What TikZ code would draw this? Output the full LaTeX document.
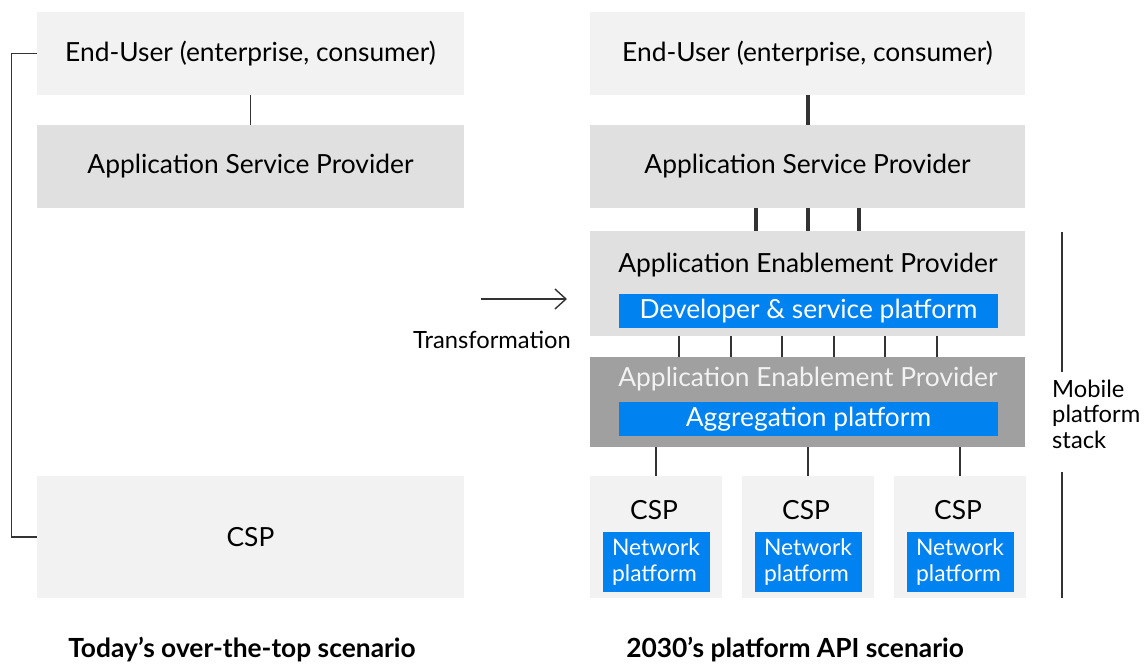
\documentclass[tikz,border=0pt]{standalone}
\usepackage{fontspec}
\setmainfont{Lato}
\usepackage{xcolor}
\usepackage{tikz}
\usetikzlibrary{arrows.meta}

\definecolor{paleGray}{HTML}{F2F2F2}
\definecolor{midGray}{HTML}{E0E0E0}
\definecolor{darkGray}{HTML}{A0A0A0}
\definecolor{platBlue}{HTML}{0082F0}
\definecolor{lineGray}{HTML}{333333}

\begin{document}
\begin{tikzpicture}[x=0.02cm, y=-0.02cm,
    every node/.style={font=\fontsize{15}{17}\selectfont, text=black},
    box/.style={rectangle, draw=none, inner sep=0pt},
    palebox/.style={box, fill=paleGray},
    midbox/.style={box, fill=midGray},
    darkbox/.style={box, fill=darkGray},
    bluebox/.style={box, fill=platBlue, text=white},
    link/.style={draw=lineGray, line width=0.8pt},
    thicklink/.style={draw=lineGray, line width=1.8pt},
    smalltext/.style={font=\fontsize{13.5}{14.5}\selectfont}]
    \useasboundingbox (0,0) rectangle (1148,664);

    % left column: today
    \node[palebox, minimum width=85.4mm, minimum height=16.6mm] (user1) at (250.5,53.5) {End-User (enterprise, consumer)};
    \node[midbox, minimum width=85.4mm, minimum height=16.6mm] (asp1) at (250.5,166.5) {Application Service Provider};
    \node[palebox, minimum width=85.4mm, minimum height=24.4mm] (csp0) at (250.5,537) {CSP};
    \draw[link] (user1) -- (asp1);
    \draw[link] (user1.west) -- ++(-25,0) |- (csp0.west);

    % transformation arrow
    \coordinate (tfrom) at (481,299);
    \coordinate (tto) at (567,299);
    \draw[link, -{Straight Barb[length=2.2mm, width=4mm]}] (tfrom) -- (tto);
    \node[smalltext] (trans) at (492,340) {Transformation};

    % right column: 2030
    \node[palebox, minimum width=87mm, minimum height=16.6mm] (user2) at (807.5,53.5) {End-User (enterprise, consumer)};
    \node[midbox, minimum width=87mm, minimum height=16.6mm] (asp2) at (807.5,166.5) {Application Service Provider};
    \draw[thicklink] (user2.south -| 808,0) -- (asp2.north -| 808,0);

    \node[midbox, minimum width=87mm, minimum height=21mm] (aep) at (807.5,283.5) {};
    \node (aeptext) at (808,265) {Application Enablement Provider};
    \node[bluebox, minimum width=75.8mm, minimum height=6.8mm] (devplat) at (808.5,311) {Developer \& service platform};
    \foreach \x in {756,808,859}
        \draw[thicklink] (asp2.south -| \x,0) -- (aep.north -| \x,0);

    \node[darkbox, minimum width=87mm, minimum height=18mm] (aggaep) at (807.5,402) {};
    \node[text=paleGray] (aggtext) at (808,379) {Application Enablement Provider};
    \node[bluebox, minimum width=75.8mm, minimum height=6.8mm] (aggplat) at (808.5,419) {Aggregation platform};
    \foreach \x in {679,731,782,834,885,937}
        \draw[link] (aep.south -| \x,0) -- (aggaep.north -| \x,0);

    \foreach \x/\n in {656/a,808/b,960/c} {
        \node[palebox, minimum width=26.4mm, minimum height=24.4mm] (csp\n) at (\x,537) {};
        \node (csptext\n) at (\x-2,510) {CSP};
        \node[bluebox, minimum width=21.4mm, minimum height=12mm, align=left,
              font=\fontsize{13}{14.5}\selectfont] (net\n) at (\x,562) {Network\\platform};
        \draw[link] (aggaep.south -| csp\n.north) -- (csp\n.north);
    }

    % stack marker
    \coordinate (stacktop) at (1062,232);
    \coordinate (stackmid1) at (1062,372);
    \coordinate (stackmid2) at (1062,472);
    \coordinate (stackbot) at (1062,598);
    \node[smalltext, anchor=west, align=left] (stack) at (1046,414) {Mobile\\platform\\stack};
    \draw[link] (stacktop) -- (stackmid1);
    \draw[link] (stackmid2) -- (stackbot);

    % captions
    \node[font=\bfseries\fontsize{15}{17}\selectfont] (cap1) at (242,650) {Today’s over-the-top scenario};
    \node[font=\bfseries\fontsize{15}{17}\selectfont] (cap2) at (795,650) {2030’s platform API scenario};
\end{tikzpicture}
\end{document}
